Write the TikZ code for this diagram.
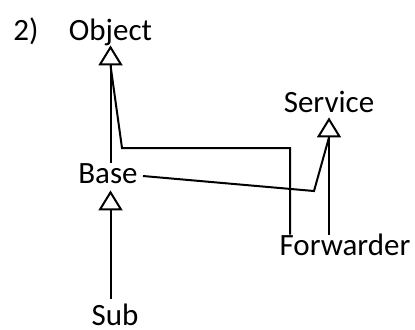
\documentclass[tikz,border=0pt]{standalone}
\usepackage{fontspec}
\setmainfont{Carlito}
\usetikzlibrary{arrows.meta}

\begin{document}
\begin{tikzpicture}[
  x=0.5pt, y=-0.5pt,
  font=\fontsize{15.5}{18}\selectfont,
  cls/.style={inner sep=0pt, text height=10pt, text depth=0pt, anchor=base},
  line/.style={line width=1pt},
  inh/.style={line, -{Triangle[open, length=10pt, width=12pt]}}
]
\useasboundingbox (0,0) rectangle (415,329);

% classes
\node[cls] (num) at (26,40) {2)};
\node[cls] (obj) at (110.5,40) {Object};
\node[cls] (srv) at (329,112) {Service};
\node[cls] (base) at (108,183) {Base};
\node[cls] (fwd) at (345,255) {Forwarder};
\node[cls] (sub) at (115,325) {Sub};

% bends
\coordinate (kink) at (314,191);
\coordinate (ret) at (290,148);
\coordinate (elbow) at (122,148);

% inheritance
\draw[inh, shorten <=3pt, shorten >=3.5pt] (sub.north -| obj.south) -- (base.south -| obj.south);
\draw[inh, shorten >=2.5pt] (base.north -| obj.south) -- (obj.south);
\draw[inh, shorten >=2.5pt] (fwd.north -| srv.south) -- (srv.south);

% lines joining the shared heads
\draw[line] ([shift={(2.5pt,-1.5pt)}]base.east) -- (kink) -- ([yshift=-12.5pt]srv.south);
\draw[line] (fwd.north -| ret) -- (ret) -- (elbow) -- ([yshift=-12.5pt]obj.south);

\end{tikzpicture}
\end{document}
